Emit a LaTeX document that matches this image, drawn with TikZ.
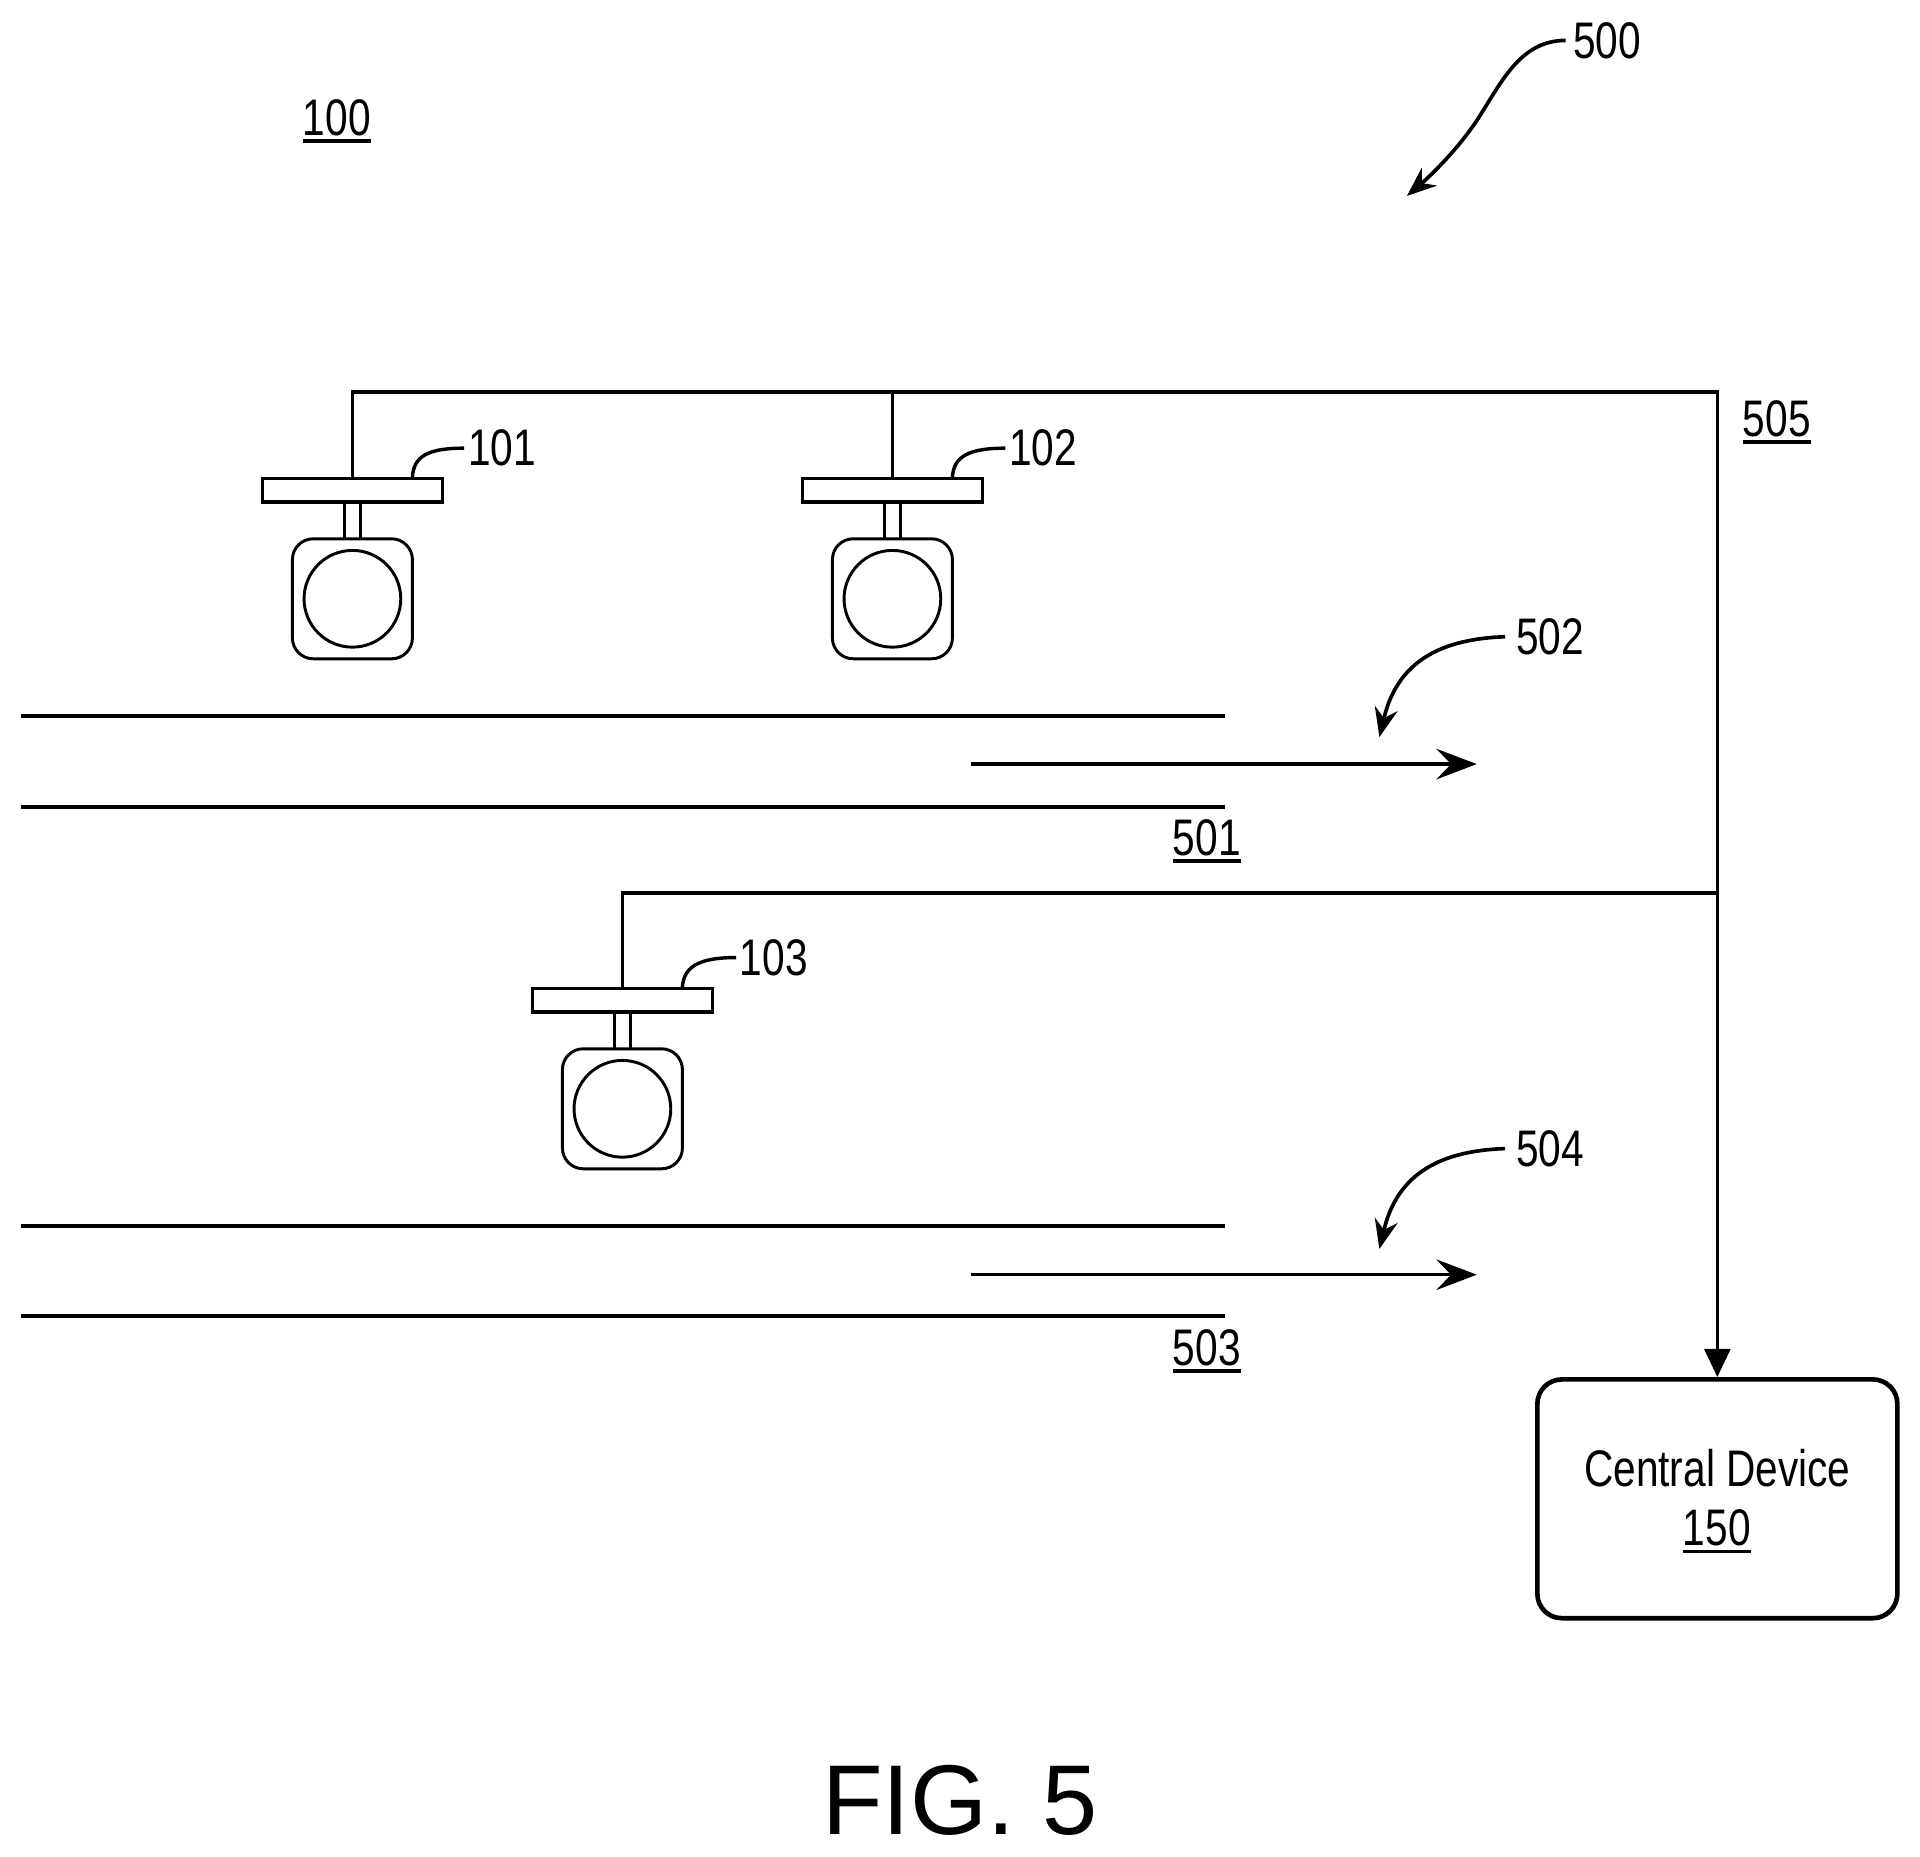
\documentclass[tikz,border=0pt]{standalone}
\usepackage{fontspec}
\setmainfont{Liberation Sans}
\newfontfamily\condfont[FakeStretch=0.79]{Liberation Sans}
\usetikzlibrary{arrows.meta,calc}
\newcommand{\ulnum}[1]{\setbox0=\hbox{#1}\hbox{\rlap{\raisebox{-6pt}{\rule{\wd0}{2.8pt}}}\box0}}
\tikzset{
  plate/.style={draw,line width=2.6pt,minimum width=147pt,minimum height=19pt,inner sep=0pt,line join=miter},
  stem/.style={draw,line width=2.2pt,minimum width=13pt,minimum height=30pt,inner sep=0pt},
  cambody/.style={draw,line width=2.4pt,rounded corners=17pt,minimum width=98pt,minimum height=98pt,inner sep=0pt,fill=white},
  lens/.style={draw,line width=2.4pt,circle,minimum size=79pt,inner sep=0pt},
  camera/.pic={
    \node[stem] (-stem) at (0,25) {};
    \node[plate,fill=white] (-plate) at (0,0) {};
    \node[cambody] (-body) at (0,88.5) {};
    \node[lens] (-lens) at (0,88.5) {};
  },
  wire/.style={line width=3pt,line join=miter},
  road/.style={line width=3.2pt},
  flow/.style={line width=2.8pt,-{Stealth[length=33pt,width=25pt,inset=12pt]}},
  leader/.style={line width=2.8pt},
  callout/.style={line width=3pt,-{Stealth[length=24pt,width=19pt,inset=8pt]}},
  lbl/.style={font=\fontsize{42}{50}\selectfont\condfont,inner sep=0pt,text=black},
  centralbox/.style={draw,line width=3.8pt,rounded corners=20pt,minimum width=294pt,minimum height=195pt,inner sep=0pt},
}
\begin{document}
\begin{tikzpicture}[x=1pt,y=-1pt]
\useasboundingbox[fill=white] (0,0) rectangle (1568,1516);

\pic (c1) at (287.8,400.5) {camera};
\pic (c2) at (728.8,400.5) {camera};
\pic (c3) at (508.3,817) {camera};

\node[centralbox] (central) at (1402.5,1224) {};
\node[lbl,anchor=base] (centraltxt) at (1402.5,1214) {Central Device};
\node[lbl,anchor=base] (n150) at (1402,1262.5) {\ulnum{150}};

\coordinate (bus) at (1402.5,320);
\coordinate (tee) at (1402.5,729);
\draw[wire,-{Triangle[length=23pt,width=21pt]}] (c1-plate.north) |- (bus) -- (central.north);
\draw[wire] (c2-plate.north) |- (bus);
\draw[wire] (c3-plate.north) |- (tee);

\coordinate (r1a) at (17,585);   \coordinate (r1b) at (1000,585);
\coordinate (r2a) at (17,659);   \coordinate (r2b) at (1000,659);
\coordinate (r3a) at (17,1001);  \coordinate (r3b) at (1000,1001);
\coordinate (r4a) at (17,1075);  \coordinate (r4b) at (1000,1075);
\draw[road] (r1a) -- (r1b);
\draw[road] (r2a) -- (r2b);
\draw[road] (r3a) -- (r3b);
\draw[road] (r4a) -- (r4b);

\coordinate (f1a) at (793,624);  \coordinate (f1b) at (1206,624);
\coordinate (f2a) at (793,1041); \coordinate (f2b) at (1206,1041);
\draw[flow] (f1a) -- (f1b);
\draw[flow] (f2a) -- (f2b);

\node[lbl] (n101) at (410,366) {101};
\node[lbl] (n102) at (852,366) {102};
\node[lbl] (n103) at (632,782) {103};
\draw[leader] ($(c1-plate.north)+(49,0)$) .. controls +(1,-17) and +(-30,0) .. ($(n101.west)+(-3,0)$);
\draw[leader] ($(c2-plate.north)+(49,0)$) .. controls +(1,-17) and +(-30,0) .. ($(n102.west)+(-3,0)$);
\draw[leader] ($(c3-plate.north)+(49,0)$) .. controls +(1,-17) and +(-30,0) .. ($(n103.west)+(-3,0)$);

\node[lbl,anchor=base] (n100) at (275,110.5) {\ulnum{100}};
\node[lbl,anchor=base] (n505) at (1451,356.5) {\ulnum{505}};
\node[lbl,anchor=base] (n501) at (985.5,698.5) {\ulnum{501}};
\node[lbl,anchor=base] (n503) at (985.5,1115) {\ulnum{503}};

\node[lbl] (n500) at (1312.5,33) {500};
\node[lbl] (n502) at (1266,520) {502};
\node[lbl] (n504) at (1266,938) {504};
\coordinate (t500) at (1149,160);
\coordinate (t502) at (1126.5,602);
\coordinate (t504) at (1126.5,1020);
\draw[callout] ($(n500.west)+(-6,0)$) .. controls (1240,33) and (1225,70) .. (1205,100) .. controls (1190,122) and (1170,142) .. (t500);
\draw[callout] ($(n502.west)+(-9,0)$) .. controls (1170,522) and (1140,545) .. (t502);
\draw[callout] ($(n504.west)+(-9,0)$) .. controls (1170,940) and (1140,963) .. (t504);

\node[inner sep=0pt,font=\fontsize{81}{90}\selectfont] (fig) at (784,1470) {FIG. 5};
\end{tikzpicture}
\end{document}
